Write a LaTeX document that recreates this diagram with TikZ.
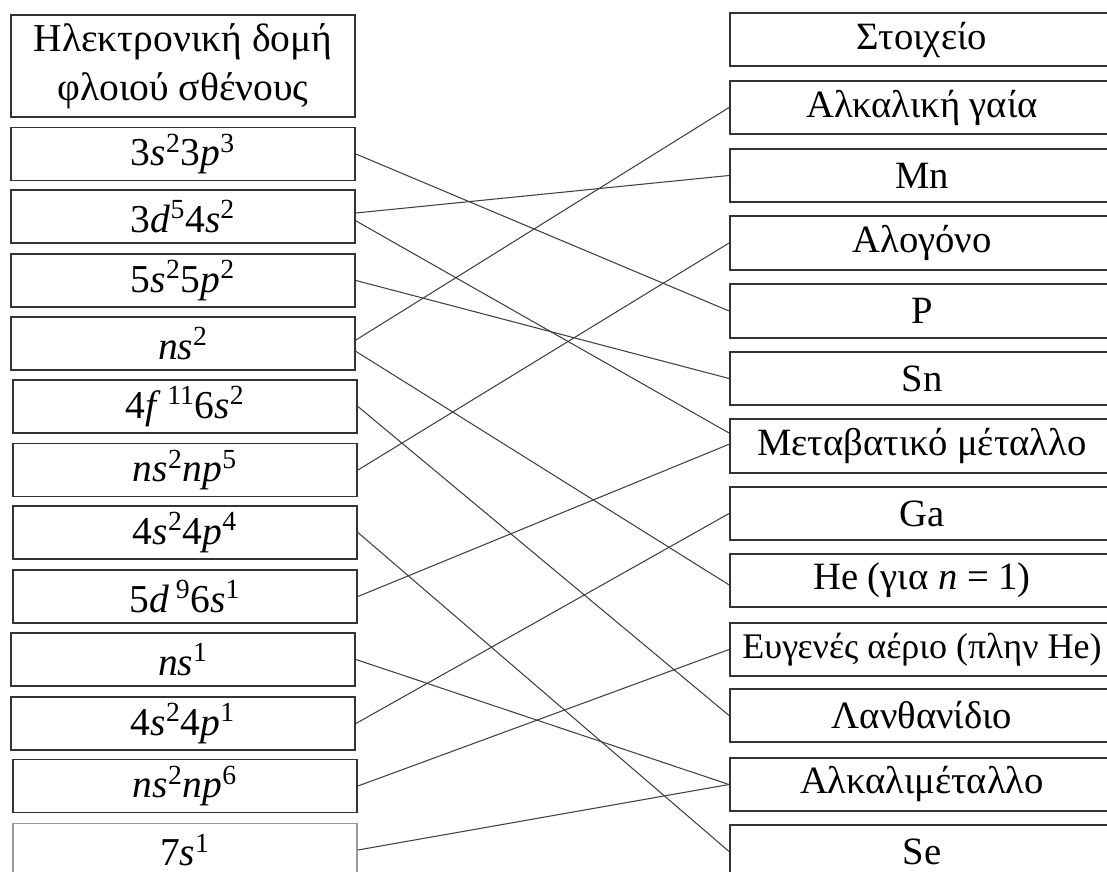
\documentclass[tikz,border=0pt]{standalone}
\usepackage{fontspec}
\setmainfont{Liberation Serif}
\newcommand{\up}[1]{\textsuperscript{#1}}

\tikzset{
  conf/.style={draw=black!80, line width=1.1pt, minimum width=6.88cm,
    minimum height=1.06cm, inner sep=0pt, font=\fontsize{22.5}{28}\selectfont},
  elem/.style={draw=black!80, line width=1.1pt, minimum width=7.68cm,
    minimum height=1.07cm, inner sep=0pt, font=\fontsize{22}{27}\selectfont},
  link/.style={black!75, line width=0.6pt}
}

\begin{document}
\begin{tikzpicture}[x=0.02cm, y=-0.02cm]
\useasboundingbox (0,0) rectangle (1107,872);

% configurations (left)
\node[conf, minimum height=2.04cm, align=center] (head) at (183,66)
  {Ηλεκτρονική δομή\\φλοιού σθένους};
\node[conf] (l1) at (183,154) {3\textit{s}\up{2}3\textit{p}\up{3}};
\node[conf] (l2) at (183,216.5) {3\textit{d}\up{5}4\textit{s}\up{2}};
\node[conf] (l3) at (183,280.5) {5\textit{s}\up{2}5\textit{p}\up{2}};
\node[conf] (l4) at (183,343.5) {\textit{ns}\up{2}};
\node[conf] (l5) at (185,406.5) {4\textit{f}\,\up{11}6\textit{s}\up{2}};
\node[conf] (l6) at (185,470) {\textit{ns}\up{2}\textit{np}\up{5}};
\node[conf] (l7) at (185,532.5) {4\textit{s}\up{2}4\textit{p}\up{4}};
\node[conf] (l8) at (185,596.5) {5\textit{d}\,\up{9}6\textit{s}\up{1}};
\node[conf] (l9) at (183,659.5) {\textit{ns}\up{1}};
\node[conf] (l10) at (183,723.5) {4\textit{s}\up{2}4\textit{p}\up{1}};
\node[conf] (l11) at (185,786) {\textit{ns}\up{2}\textit{np}\up{6}};
\node[conf, draw=black!40] (l12) at (185,850) {7\textit{s}\up{1}};

% elements (right)
\node[elem] (head2) at (922,39.5) {Στοιχείο};
\node[elem] (r1) at (922,107.5) {Αλκαλική γαία};
\node[elem] (r2) at (922,175.5) {Mn};
\node[elem] (r3) at (922,243) {Αλογόνο};
\node[elem] (r4) at (922,311) {P};
\node[elem] (r5) at (922,378.5) {Sn};
\node[elem] (r6) at (922,446) {Μεταβατικό μέταλλο};
\node[elem] (r7) at (922,513.5) {Ga};
\node[elem] (r8) at (922,580.5) {He (για \textit{n} = 1)};
\node[elem, font=\fontsize{20.5}{25}\selectfont] (r9) at (922,649.5)
  {Ευγενές αέριο (πλην He)};
\node[elem] (r10) at (922,715.5) {Λανθανίδιο};
\node[elem] (r11) at (922,784.5) {Αλκαλιμέταλλο};
\node[elem] (r12) at (922,851.5) {Se};

% links
\draw[link] (l1.east) -- (r4.west);
\draw[link] ([yshift=2pt]l2.east) -- (r2.west);
\draw[link] ([yshift=-2.5pt]l2.east) -- ([yshift=7.4pt]r6.west);
\draw[link] (l3.east) -- (r5.west);
\draw[link] ([yshift=2pt]l4.east) -- (r1.west);
\draw[link] ([yshift=-4.5pt]l4.east) -- ([yshift=-2.5pt]r8.west);
\draw[link] (l5.east) -- (r10.west);
\draw[link] (l6.east) -- (r3.west);
\draw[link] (l7.east) -- (r12.west);
\draw[link] (l8.east) -- ([yshift=1pt]r6.west);
\draw[link] (l9.east) -- (r11.west);
\draw[link] (l10.east) -- (r7.west);
\draw[link] (l11.east) -- (r9.west);
\draw[link] (l12.east) -- (r11.west);

\end{tikzpicture}
\end{document}
